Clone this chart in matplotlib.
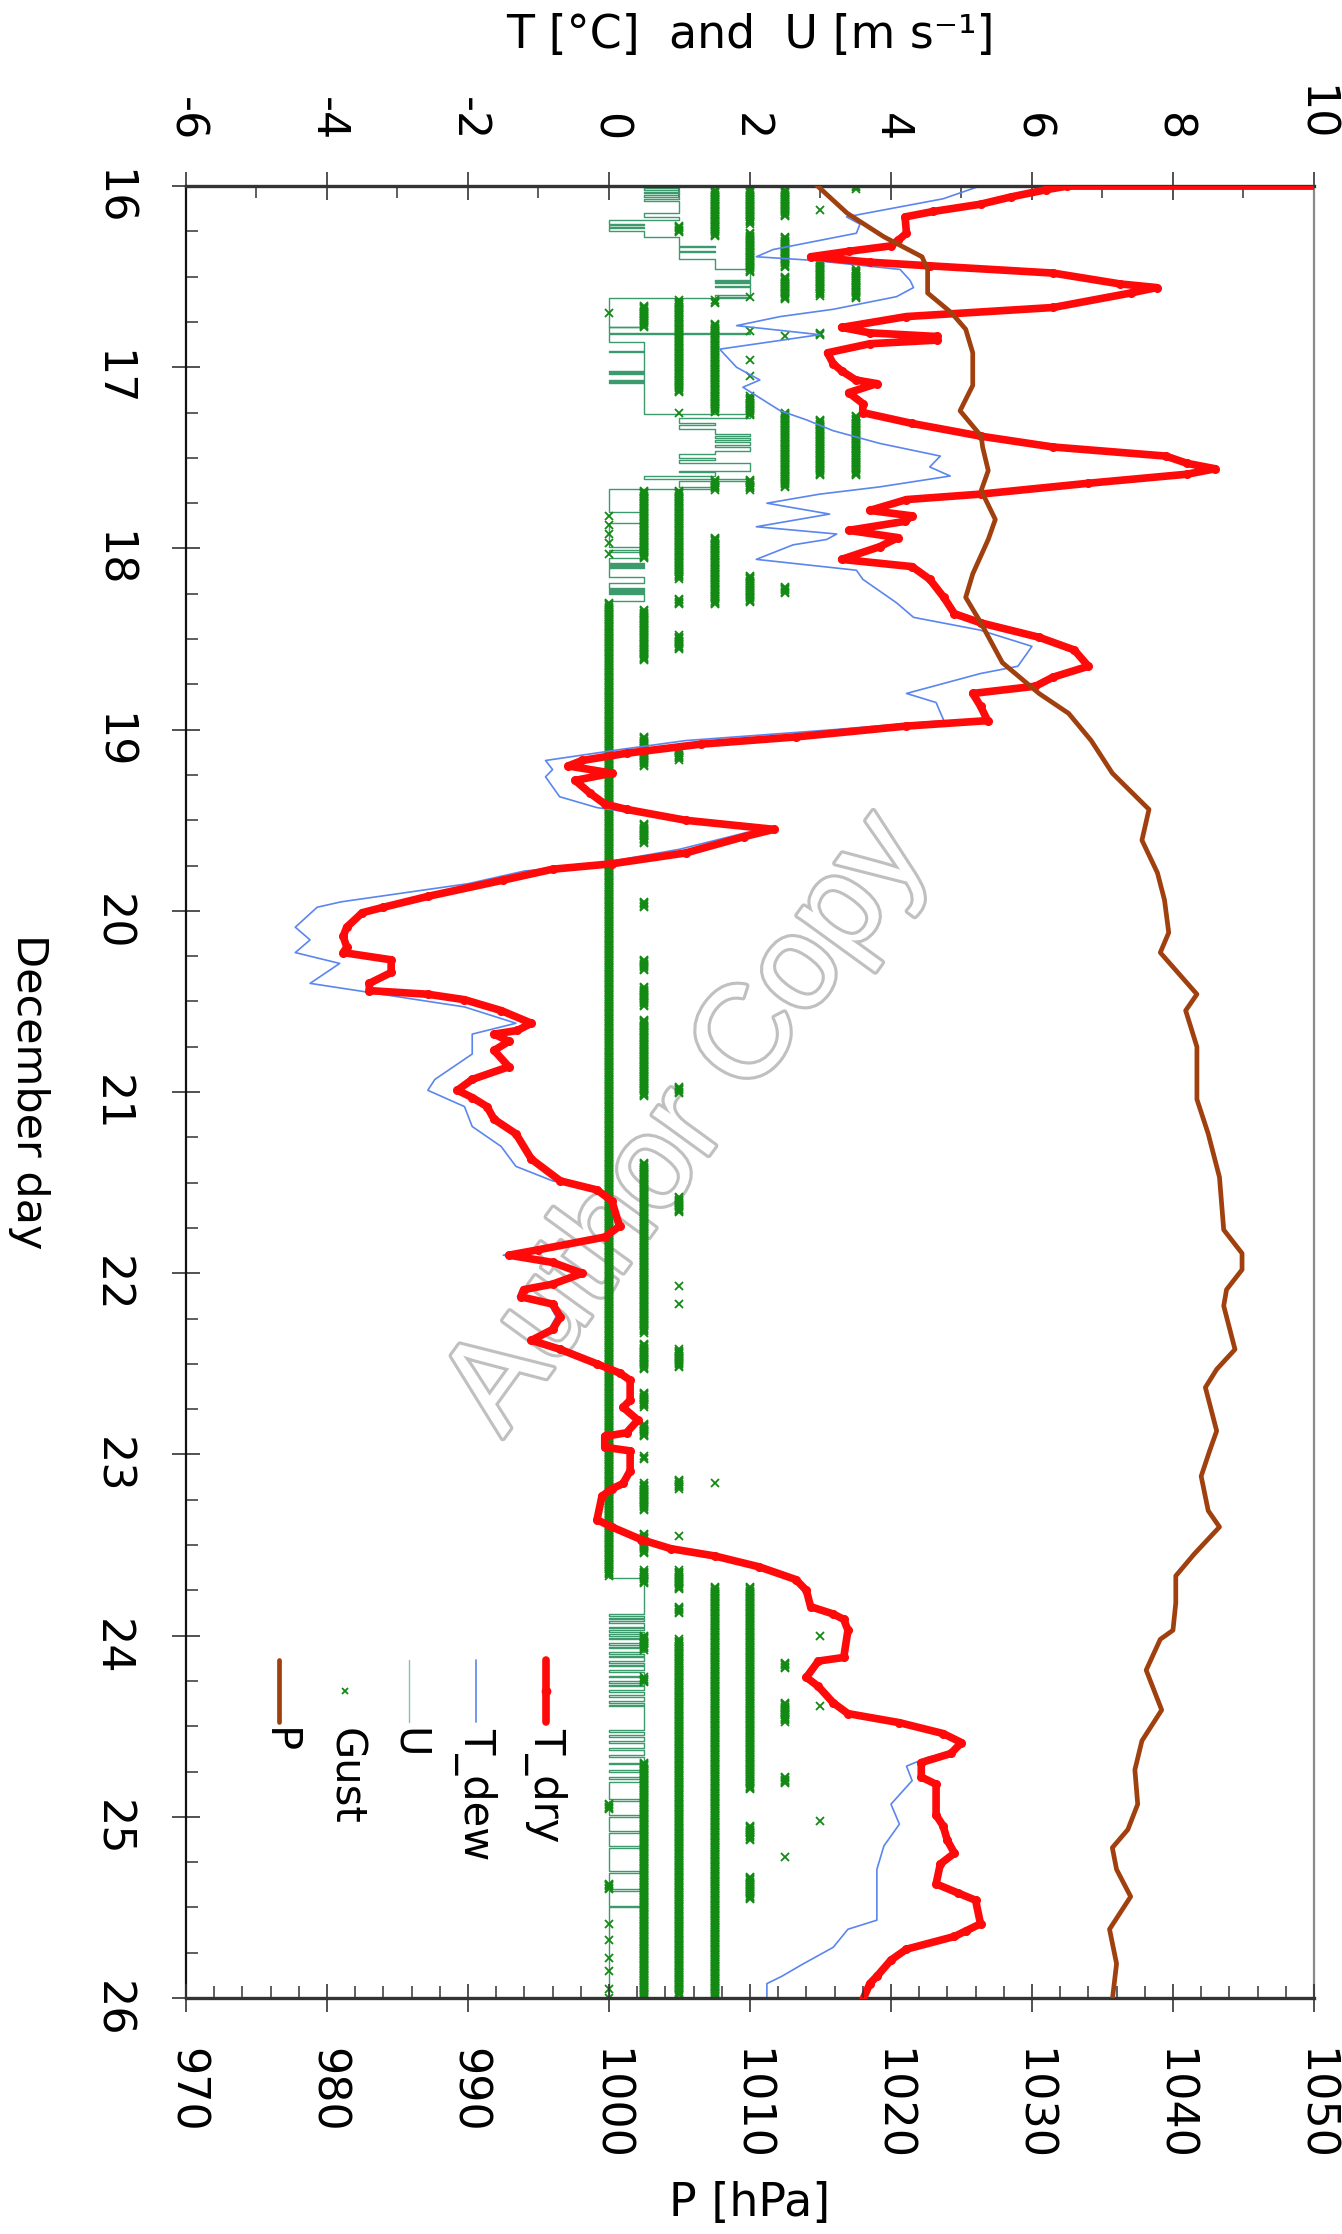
"""Rotated time series of temperature, dew point, wind, gusts and pressure."""

import matplotlib

matplotlib.use("Agg")
import matplotlib.pyplot as plt  # noqa: E402
import matplotlib.patheffects as pe  # noqa: E402
import numpy as np  # noqa: E402

# (day, value) pairs
T_DRY = [
    (16.00, 10.5), (16.00, 6.5), (16.02, 6.2), (16.06, 5.7), (16.10, 5.27), (16.14, 4.6),
    (16.17, 4.2), (16.26, 4.22), (16.30, 4.1), (16.33, 4.0), (16.36, 3.4), (16.39, 2.86),
    (16.42, 3.7), (16.44, 4.55), (16.48, 6.3), (16.54, 7.25), (16.56, 7.77), (16.59, 7.4),
    (16.67, 6.3), (16.72, 4.22), (16.78, 3.3), (16.81, 3.7), (16.83, 4.65), (16.85, 4.65),
    (16.87, 3.7), (16.92, 3.1), (16.98, 3.18), (17.02, 3.3), (17.07, 3.5), (17.09, 3.8),
    (17.14, 3.4), (17.20, 3.6), (17.25, 3.6), (17.31, 4.3), (17.38, 5.27), (17.44, 6.3),
    (17.49, 7.9), (17.53, 8.2), (17.56, 8.6), (17.59, 8.2), (17.64, 6.8), (17.70, 5.27),
    (17.73, 4.22), (17.79, 3.7), (17.82, 4.3), (17.85, 4.2), (17.90, 3.4), (17.94, 4.1),
    (17.99, 3.84), (18.06, 3.3), (18.10, 4.3), (18.17, 4.55), (18.27, 4.75), (18.36, 4.9),
    (18.41, 5.27), (18.49, 6.1), (18.56, 6.6), (18.65, 6.8), (18.71, 6.3), (18.76, 6.05),
    (18.80, 5.16), (18.87, 5.27), (18.95, 5.37), (18.98, 4.22), (19.04, 2.65), (19.08, 1.3),
    (19.13, 0.25), (19.17, -0.38), (19.20, -0.58), (19.24, 0.04), (19.28, -0.48),
    (19.35, -0.27), (19.41, -0.06), (19.44, 0.25), (19.50, 1.09), (19.55, 2.34), (19.59, 1.92),
    (19.68, 1.09), (19.74, 0.04), (19.77, -0.8), (19.83, -1.5), (19.92, -2.57), (19.98, -3.2),
    (20.01, -3.5), (20.09, -3.72), (20.14, -3.77), (20.20, -3.72), (20.23, -3.77),
    (20.27, -3.09), (20.34, -3.09), (20.40, -3.4), (20.44, -3.4), (20.46, -2.57),
    (20.49, -2.05), (20.55, -1.53), (20.62, -1.1), (20.66, -1.3), (20.68, -1.63),
    (20.72, -1.42), (20.77, -1.63), (20.86, -1.42), (20.93, -1.94), (20.99, -2.15),
    (21.03, -1.94), (21.08, -1.73), (21.15, -1.63), (21.23, -1.32), (21.37, -1.1),
    (21.49, -0.69), (21.54, -0.17), (21.60, 0.04), (21.74, 0.15), (21.80, -0.06),
    (21.87, -1.0), (21.90, -1.42), (21.94, -0.8), (22.00, -0.38), (22.06, -0.8),
    (22.09, -1.21), (22.13, -1.25), (22.17, -0.8), (22.24, -0.69), (22.31, -0.8),
    (22.37, -1.1), (22.42, -0.69), (22.50, -0.17), (22.55, 0.15), (22.59, 0.3), (22.70, 0.3),
    (22.74, 0.2), (22.81, 0.41), (22.88, 0.25), (22.90, -0.06), (22.96, -0.06), (22.98, 0.3),
    (23.09, 0.3), (23.16, 0.2), (23.19, 0.04), (23.23, -0.1), (23.36, -0.17), (23.40, 0.04),
    (23.47, 0.46), (23.52, 0.88), (23.56, 1.5), (23.62, 2.13), (23.69, 2.65), (23.75, 2.8),
    (23.84, 2.86), (23.88, 3.18), (23.91, 3.33), (23.97, 3.39), (24.12, 3.33), (24.14, 2.97),
    (24.23, 2.8), (24.28, 2.97), (24.37, 3.18), (24.43, 3.39), (24.48, 4.12), (24.54, 4.74),
    (24.59, 5.0), (24.65, 4.85), (24.70, 4.43), (24.78, 4.43), (24.82, 4.64), (24.99, 4.64),
    (25.05, 4.74), (25.13, 4.8), (25.20, 4.9), (25.26, 4.7), (25.37, 4.64), (25.42, 4.95),
    (25.46, 5.2), (25.59, 5.27), (25.63, 5.06), (25.66, 4.9), (25.73, 4.22), (25.79, 4.0),
    (25.88, 3.8), (25.92, 3.7), (26.01, 3.6),
]

T_DEW = [
    (16.00, 5.26), (16.07, 4.74), (16.17, 3.37), (16.21, 3.56), (16.26, 3.51), (16.35, 2.33),
    (16.39, 2.09), (16.41, 2.9), (16.46, 4.13), (16.52, 4.27), (16.56, 4.32), (16.61, 4.08),
    (16.68, 3.18), (16.72, 2.43), (16.77, 1.81), (16.82, 2.99), (16.90, 1.57), (17.00, 1.81),
    (17.07, 2.14), (17.11, 1.9), (17.24, 2.43), (17.29, 2.8), (17.35, 3.18), (17.42, 3.84),
    (17.49, 4.7), (17.55, 4.55), (17.60, 4.84), (17.66, 3.84), (17.70, 2.99), (17.75, 2.24),
    (17.81, 3.13), (17.88, 2.09), (17.92, 3.23), (17.95, 3.09), (17.98, 2.61), (18.06, 2.09),
    (18.12, 3.51), (18.17, 3.6), (18.30, 4.08), (18.38, 4.32), (18.45, 5.26), (18.54, 6.0),
    (18.65, 5.8), (18.69, 5.27), (18.80, 4.22), (18.85, 4.64), (18.95, 4.75), (19.00, 3.18),
    (19.06, 1.09), (19.11, 0.15), (19.17, -0.9), (19.22, -0.8), (19.26, -0.9), (19.37, -0.7),
    (19.43, -0.17), (19.50, 1.09), (19.55, 2.13), (19.66, 1.0), (19.74, -0.17), (19.78, -1.2),
    (19.85, -2.0), (19.95, -3.8), (19.98, -4.14), (20.09, -4.45), (20.16, -4.24),
    (20.23, -4.45), (20.29, -3.82), (20.40, -4.24), (20.45, -3.4), (20.53, -2.05),
    (20.62, -1.32), (20.68, -1.94), (20.79, -1.94), (20.93, -2.47), (20.99, -2.57),
    (21.08, -2.05), (21.19, -1.94), (21.30, -1.53), (21.41, -1.32), (21.49, -0.8),
    (21.54, -0.17), (21.60, 0.04), (21.74, 0.1), (21.80, -0.1), (21.87, -1.1), (21.90, -1.5),
    (21.94, -0.9), (22.00, -0.45), (22.06, -0.85), (22.09, -1.25), (22.13, -1.3),
    (22.17, -0.85), (22.24, -0.75), (22.31, -0.85), (22.37, -1.15), (22.42, -0.75),
    (22.50, -0.2), (22.55, 0.12), (22.59, 0.27), (22.70, 0.27), (22.74, 0.17), (22.81, 0.38),
    (22.88, 0.22), (22.90, -0.09), (22.96, -0.09), (22.98, 0.27), (23.09, 0.27), (23.16, 0.17),
    (23.19, 0.01), (23.23, -0.13), (23.36, -0.2), (23.40, 0.01), (23.47, 0.43), (23.52, 0.85),
    (23.56, 1.47), (23.62, 2.1), (23.69, 2.62), (23.75, 2.77), (23.84, 2.83), (23.88, 3.15),
    (23.91, 3.3), (23.97, 3.36), (24.12, 3.3), (24.14, 2.94), (24.23, 2.77), (24.28, 2.94),
    (24.37, 3.15), (24.43, 3.36), (24.48, 4.09), (24.54, 4.71), (24.59, 4.97), (24.65, 4.8),
    (24.67, 4.53), (24.72, 4.22), (24.80, 4.3), (24.93, 4.0), (25.04, 4.12), (25.16, 3.9),
    (25.29, 3.8), (25.44, 3.8), (25.57, 3.8), (25.62, 3.39), (25.72, 3.18), (25.81, 2.76),
    (25.88, 2.45), (25.92, 2.24), (26.01, 2.24),
]

P_HPA = [
    (16.00, 1014.8), (16.15, 1016.9), (16.28, 1019.5), (16.39, 1022.2), (16.46, 1022.6),
    (16.59, 1022.6), (16.70, 1024.3), (16.79, 1025.3), (16.92, 1025.8), (17.10, 1025.8),
    (17.24, 1024.9), (17.38, 1026.4), (17.44, 1026.5), (17.57, 1026.9), (17.68, 1026.4),
    (17.84, 1027.4), (17.95, 1026.9), (18.14, 1025.8), (18.27, 1025.3), (18.40, 1026.3),
    (18.63, 1027.9), (18.80, 1030.5), (18.91, 1032.6), (19.06, 1034.2), (19.24, 1035.7),
    (19.44, 1038.3), (19.61, 1037.8), (19.79, 1038.9), (19.94, 1039.4), (20.12, 1039.7),
    (20.23, 1039.1), (20.46, 1041.7), (20.55, 1040.9), (20.75, 1041.7), (21.04, 1041.7),
    (21.23, 1042.5), (21.47, 1043.3), (21.76, 1043.6), (21.89, 1044.9), (21.98, 1044.9),
    (22.09, 1043.8), (22.18, 1043.6), (22.42, 1044.4), (22.53, 1043.1), (22.63, 1042.3),
    (22.87, 1043.1), (22.98, 1042.6), (23.12, 1042.0), (23.31, 1042.5), (23.40, 1043.3),
    (23.55, 1041.5), (23.67, 1040.2), (23.82, 1040.2), (23.97, 1040.0), (24.02, 1039.1),
    (24.19, 1038.1), (24.41, 1039.2), (24.58, 1037.8), (24.74, 1037.3), (24.93, 1037.5),
    (25.07, 1036.8), (25.17, 1035.7), (25.29, 1036.0), (25.44, 1037.0), (25.62, 1035.5),
    (25.81, 1036.0), (26.01, 1035.7),
]

# mean wind, drawn as a step line (value holds until the next day stamp)
U_WIND = [
    (16.000, 1.0), (16.010, 0.5), (16.020, 1.0), (16.030, 0.5), (16.040, 1.0), (16.050, 0.5),
    (16.060, 1.0), (16.070, 0.5), (16.080, 1.0), (16.150, 0.5), (16.170, 1.0), (16.185, 0.0),
    (16.210, 0.5), (16.215, 0.0), (16.225, 0.5), (16.230, 0.0), (16.250, 0.5), (16.280, 1.0),
    (16.330, 1.5), (16.335, 1.0), (16.360, 1.5), (16.365, 1.0), (16.400, 1.5), (16.460, 2.0),
    (16.520, 1.5), (16.525, 2.0), (16.530, 1.5), (16.535, 2.0), (16.550, 1.5), (16.555, 2.0),
    (16.600, 1.5), (16.610, 2.0), (16.620, 0.0), (16.775, 0.5), (16.780, 0.0), (16.810, 2.0),
    (16.815, 0.0), (16.860, 0.5), (16.910, 0.0), (16.915, 0.5), (17.020, 0.0), (17.025, 0.5),
    (17.030, 0.0), (17.035, 0.5), (17.070, 0.0), (17.075, 0.5), (17.080, 0.0), (17.085, 0.5),
    (17.260, 2.0), (17.280, 1.0), (17.310, 1.5), (17.320, 1.0), (17.340, 1.5), (17.370, 2.0),
    (17.380, 1.5), (17.390, 2.0), (17.400, 1.5), (17.410, 2.0), (17.430, 1.5), (17.440, 2.0),
    (17.460, 1.5), (17.480, 1.0), (17.500, 1.5), (17.510, 1.0), (17.530, 2.0), (17.570, 1.0),
    (17.580, 1.5), (17.600, 0.5), (17.615, 2.0), (17.625, 1.0), (17.660, 1.5), (17.670, 0.0),
    (17.800, 0.5), (17.860, 0.0), (17.990, 0.5), (18.010, 0.0), (18.020, 0.5), (18.050, 0.0),
    (18.080, 0.5), (18.085, 0.0), (18.090, 0.5), (18.095, 0.0), (18.100, 0.5), (18.105, 0.0),
    (18.155, 0.5), (18.190, 0.0), (18.220, 0.5), (18.225, 0.0), (18.230, 0.5), (18.235, 0.0),
    (18.240, 0.5), (18.245, 0.0), (18.250, 0.5), (18.290, 0.0), (23.680, 0.5), (23.880, 0.0),
    (23.890, 0.5), (23.900, 0.0), (23.910, 0.5), (23.920, 0.0), (23.930, 0.5), (23.950, 0.0),
    (23.960, 0.5), (23.970, 0.0), (23.980, 0.5), (23.990, 0.0), (24.000, 0.5), (24.010, 0.0),
    (24.020, 0.5), (24.040, 0.0), (24.050, 0.5), (24.060, 0.0), (24.070, 0.5), (24.090, 0.0),
    (24.100, 0.5), (24.110, 0.0), (24.120, 0.5), (24.140, 0.0), (24.150, 0.5), (24.160, 0.0),
    (24.170, 0.5), (24.190, 0.0), (24.200, 0.5), (24.220, 0.0), (24.230, 0.5), (24.250, 0.0),
    (24.260, 0.5), (24.270, 0.0), (24.280, 0.5), (24.300, 0.0), (24.310, 0.5), (24.330, 0.0),
    (24.340, 0.5), (24.360, 0.0), (24.370, 0.5), (24.380, 0.0), (24.390, 0.5), (24.520, 0.0),
    (24.530, 0.5), (24.550, 0.0), (24.560, 0.5), (24.580, 0.0), (24.590, 0.5), (24.620, 0.0),
    (24.630, 0.5), (24.660, 0.0), (24.670, 0.5), (24.700, 0.0), (24.710, 0.5), (24.740, 0.0),
    (24.750, 0.5), (24.780, 0.0), (24.790, 0.5), (24.810, 0.0), (24.900, 0.5), (24.910, 0.0),
    (24.990, 0.5), (25.000, 0.0), (25.080, 0.5), (25.090, 0.0), (25.160, 0.5), (25.170, 0.0),
    (25.300, 0.5), (25.310, 0.0), (25.400, 0.5), (25.410, 0.0), (25.490, 0.5), (25.500, 0.0),
    (26.010, 0.0),
]

# gusts: runs of logged values (start day, end day) per gust level [m/s]
GUST_RUNS = {
    0.0: [(16.70, 16.70), (17.82, 17.82), (17.87, 17.87), (17.92, 17.92), (17.97, 17.97),
          (18.03, 18.03), (18.30, 23.67), (24.93, 24.96), (25.37, 25.40), (25.59, 25.59),
          (25.68, 25.68), (25.78, 25.78), (25.85, 25.85), (25.95, 25.95), (26.00, 26.00)],
    0.5: [(16.66, 16.78), (17.68, 18.06), (18.34, 18.62), (19.04, 19.20), (19.52, 19.63),
          (19.95, 19.98), (20.27, 20.33), (20.42, 20.53), (20.60, 21.03), (21.39, 22.33),
          (22.39, 22.53), (22.66, 22.74), (22.83, 22.90), (23.01, 23.03), (23.16, 23.31),
          (23.44, 23.55), (23.64, 23.71), (24.00, 24.08), (24.23, 24.26), (24.70, 26.00)],
    1.0: [(16.22, 16.26), (16.63, 17.14), (17.25, 17.25), (17.68, 18.17), (18.28, 18.31),
          (18.48, 18.56), (19.11, 19.17), (20.97, 21.01), (21.58, 21.67), (22.07, 22.07),
          (22.17, 22.17), (22.42, 22.52), (23.14, 23.19), (23.45, 23.45), (23.64, 23.75),
          (23.84, 23.88), (24.02, 25.99)],
    1.5: [(16.02, 16.28), (16.63, 16.65), (16.76, 17.25), (17.62, 17.68), (17.94, 18.31),
          (23.16, 23.16), (23.73, 26.00)],
    2.0: [(16.02, 16.21), (16.26, 16.48), (16.61, 16.61), (16.80, 16.80), (16.96, 16.96),
          (17.05, 17.05), (17.16, 17.27), (17.62, 17.68), (18.15, 18.30), (23.73, 24.85),
          (25.05, 25.13), (25.33, 25.46)],
    2.5: [(16.02, 16.17), (16.28, 16.45), (16.50, 16.63), (16.83, 16.83), (17.25, 17.66),
          (18.21, 18.25), (24.15, 24.18), (24.37, 24.48), (24.78, 24.82), (25.22, 25.22)],
    3.0: [(16.13, 16.13), (16.41, 16.61), (16.81, 16.83), (17.29, 17.60), (24.00, 24.00),
          (24.39, 24.39), (25.02, 25.02)],
    3.5: [(16.00, 16.02), (16.46, 16.62), (17.27, 17.60)],
}
LOG_STEP = 1.0 / 144.0  # 10-minute logger interval

DAY_TICKS = list(range(16, 27))
T_TICKS = list(range(-6, 11, 2))
P_TICKS = list(range(970, 1051, 10))

LEGEND_LABELS = ["T_dry", "T_dew", "U", "Gust", "P"]

C_DRY = "#ff0a0a"
C_DEW = "#5a86ee"
C_U = "#3c9a6c"
C_GUST = "#138a13"
C_P = "#a0400f"


def _columns(pairs):
    arr = np.asarray(pairs, dtype=float)
    return arr[:, 0], arr[:, 1]


def _expand_runs(runs):
    days = [np.arange(start, end + 1e-9, LOG_STEP) for start, end in runs]
    return np.concatenate(days)


plt.rcParams["axes.unicode_minus"] = False
plt.rcParams["font.family"] = ["DejaVu Sans"]

fig = plt.figure(figsize=(13.42, 22.34), dpi=100)
ax = fig.add_axes([0.1386, 0.1056, 0.8405, 0.8111])
ax2 = ax.twiny()

ax.set_xlim(-6, 10)
ax.set_ylim(26, 16)
ax2.set_xlim(970, 1050)

# watermark under the data
ax.text(0.445, 0.482, "Author Copy", transform=ax.transAxes, rotation=54,
        ha="center", va="center", fontsize=94, family="Liberation Sans",
        color="white", zorder=0.5,
        path_effects=[pe.Stroke(linewidth=4.5, foreground="#c0c0c0"), pe.Normal()])

u_day, u_val = _columns(U_WIND)
ax.plot(u_val, u_day, color=C_U, lw=1.0, drawstyle="steps-pre", zorder=2)

for level, runs in GUST_RUNS.items():
    g_day = _expand_runs(runs)
    ax.plot(np.full(g_day.size, level), g_day, ls="none", marker="x", ms=5.5,
            mew=1.3, color=C_GUST, zorder=2.2)

dew_day, dew_val = _columns(T_DEW)
ax.plot(dew_val, dew_day, color=C_DEW, lw=1.2, zorder=2.5)

dry_day, dry_val = _columns(T_DRY)
ax.plot(dry_val, dry_day, color=C_DRY, lw=5.5, marker="o", ms=5.5,
        solid_joinstyle="round", zorder=3)

p_day, p_val = _columns(P_HPA)
ax2.plot(p_val, p_day, color=C_P, lw=3.4, zorder=3)

# axes styling
ax.xaxis.tick_top()
ax2.xaxis.tick_bottom()
ax.set_xticks(T_TICKS)
ax.set_xticks(range(-6, 11), minor=True)
ax.set_yticks(DAY_TICKS)
ax.set_yticks(np.arange(16, 26.01, 0.25), minor=True)
ax2.set_xticks(P_TICKS)
ax2.set_xticks(range(970, 1051, 2), minor=True)

for a in (ax, ax2):
    a.tick_params(which="major", direction="inout", length=20, width=1.2,
                  color="#333333", labelsize=32, labelrotation=-90)
    a.tick_params(which="minor", direction="in", length=8.5, width=1.1,
                  color="#333333")
ax.tick_params(axis="x", which="major", pad=22)
ax.tick_params(axis="y", which="major", pad=28, right=False)
ax.tick_params(axis="y", which="minor", right=False)
ax2.tick_params(axis="x", which="major", pad=26)

for side in ("top", "bottom", "left", "right"):
    ax2.spines[side].set_visible(False)
ax.spines["top"].set_linewidth(2.4)
ax.spines["top"].set_color("#333333")
ax.spines["bottom"].set_linewidth(2.4)
ax.spines["bottom"].set_color("#333333")
ax.spines["left"].set_linewidth(1.6)
ax.spines["left"].set_color("#111111")
ax.spines["right"].set_linewidth(1.6)
ax.spines["right"].set_color("#8a8a8a")

fig.text(0.5589, 0.9843, "T [°C]  and  U [m s⁻¹]", ha="center", va="center",
         fontsize=33)
fig.text(0.5589, 0.0135, "P [hPa]", ha="center", va="center", fontsize=33)
fig.text(0.0216, 0.5112, "December day", ha="center", va="center",
         rotation=-90, fontsize=31)

# legend drawn by hand, rotated like the rest of the chart
leg_x = [0.319, 0.257, 0.198, 0.141, 0.0824]
y_top, y_bot, y_text = 0.1865, 0.1523, 0.149
styles = [
    dict(color=C_DRY, lw=5.5),
    dict(color=C_DEW, lw=1.2),
    dict(color=C_U, lw=1.0, alpha=0.6),
    None,
    dict(color=C_P, lw=3.4),
]
for x, label, style in zip(leg_x, LEGEND_LABELS, styles):
    if style is None:
        ax.plot([x], [(y_top + y_bot) / 2], transform=ax.transAxes, ls="none",
                marker="x", ms=5, mew=1.3, color=C_GUST, clip_on=False)
    else:
        ax.plot([x, x], [y_top, y_bot], transform=ax.transAxes,
                solid_capstyle="round", clip_on=False, **style)
    if label == "T_dry":
        ax.plot([x], [(y_top + y_bot) / 2], transform=ax.transAxes, marker="o",
                ms=6, color=C_DRY)
    ax.text(x, y_text, label, transform=ax.transAxes, rotation=-90,
            ha="center", va="top", fontsize=30)

fig.savefig("out.png", dpi=100)
